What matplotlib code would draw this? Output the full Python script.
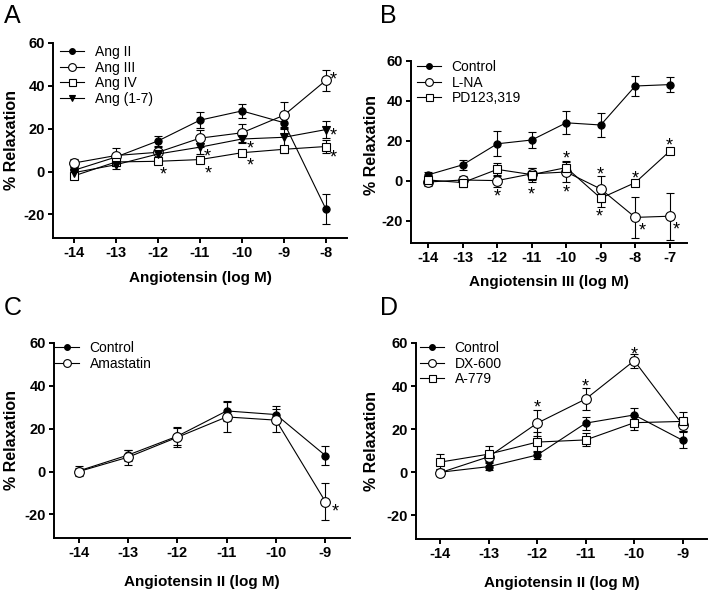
import matplotlib
matplotlib.use('Agg')
import matplotlib.pyplot as plt
import numpy as np

plt.rcParams['font.family'] = ['Liberation Sans', 'DejaVu Sans']
plt.rcParams['axes.unicode_minus'] = False

# Panel A
dose_a = [-14, -13, -12, -11, -10, -9, -8]
ang2 = [0.6, 6.8, 14.3, 24.0, 28.3, 22.8, -17.6]
ang2_err = [1.5, 1.5, 2.4, 3.8, 3.3, 3.0, 7.0]
ang3 = [4.0, 7.5, 9.0, 15.6, 18.1, 26.3, 42.6]
ang3_err = [1.8, 3.6, 2.5, 3.9, 4.3, 6.0, 5.0]
ang4 = [-2.0, 4.5, 4.8, 5.6, 8.8, 10.4, 11.7]
ang4_err = [1.0, 2.0, 1.2, 1.5, 1.5, 1.5, 3.0]
ang17 = [-0.5, 3.2, 8.2, 11.4, 15.2, 16.0, 19.6]
ang17_err = [2.0, 2.0, 2.0, 3.0, 2.0, 5.0, 4.0]
stars_a = [(-11.88, 1.0), (-10.83, 9.5), (-10.8, 1.5), (-9.8, 13.2), (-9.8, 5.3),
           (-7.83, 45.5), (-7.83, 19.4), (-7.83, 9.3)]

# Panel B
dose_b = [-14, -13, -12, -11, -10, -9, -8, -7]
ctl_b = [3.1, 8.1, 18.6, 20.5, 29.1, 28.0, 47.5, 48.2]
ctl_b_err = [1.5, 2.6, 6.3, 4.2, 5.7, 6.2, 5.0, 3.8]
lna = [-0.5, 0.5, 0.2, 3.6, 4.5, -4.0, -18.2, -17.6]
lna_err = [2.0, 2.0, 3.0, 3.0, 5.0, 6.3, 10.3, 11.7]
pd123 = [0.5, -0.8, 5.8, 3.2, 6.7, -8.6, -0.8, 14.9]
pd123_err = [2.0, 2.0, 3.2, 3.5, 3.3, 4.3, 1.0, 1.0]
stars_b = [(-12, -5.1), (-11, -3.8), (-10, 13.8), (-10, -3.0), (-9, 6.1), (-9.03, -15.0),
           (-8, 4.1), (-7.8, -21.9), (-7, 20.4), (-6.8, -21.4)]

# Panel C
dose_c = [-14, -13, -12, -11, -10, -9]
ctl_c = [0.3, 7.7, 16.5, 28.3, 26.6, 7.5]
ctl_c_err = [2.5, 2.6, 4.3, 4.5, 4.0, 4.4]
amastatin = [0.0, 6.7, 16.0, 25.5, 24.0, -14.0]
amastatin_err = [1.5, 3.6, 4.4, 7.0, 5.4, 8.8]
stars_c = [(-8.8, -16.3)]

# Panel D
dose_d = [-14, -13, -12, -11, -10, -9]
ctl_d = [0.0, 2.6, 8.0, 22.8, 26.6, 14.8]
ctl_d_err = [1.5, 1.5, 2.0, 3.0, 3.0, 3.7]
dx600 = [-0.2, 7.2, 22.8, 34.0, 51.8, 22.0]
dx600_err = [1.5, 2.0, 6.2, 5.3, 3.2, 3.0]
a779 = [4.7, 8.4, 14.0, 15.0, 23.0, 23.6]
a779_err = [3.7, 3.8, 4.5, 3.0, 3.6, 4.5]
stars_d = [(-12, 32.5), (-11, 42.5), (-10, 57.0)]

styles = {
    'filled': dict(marker='o', mfc='black', ms=5.2),
    'circle': dict(marker='o', mfc='white', ms=7),
    'square': dict(marker='s', mfc='white', ms=6.3),
    'tri': dict(marker='v', mfc='black', ms=5.8),
}

W, H = 714, 591
fig = plt.figure(figsize=(W / 100, H / 100), dpi=100)


def make_axes(left, right, top, bottom):
    return fig.add_axes([left / W, 1 - bottom / H, (right - left) / W, (bottom - top) / H])


def panel(ax, x, series, stars, xlabel, leg_dx, leg_dy, ylab_dx, ylab_y, xlab_dy):
    for y, err, style, label in series:
        ax.errorbar(x, y, yerr=err, fmt='none', ecolor='black', elinewidth=0.8,
                    capsize=2.7, capthick=0.8, zorder=2)
        ax.plot(x, y, color='black', lw=0.8, mec='black', mew=0.8, label=label,
                zorder=3, clip_on=False, **styles[style])
    # asterisk glyph sits high in the line, so drop it onto the point
    for sx, sy in stars:
        ax.annotate('*', (sx, sy), xytext=(0, -7.5), textcoords='offset points',
                    ha='center', va='baseline', fontsize=13)

    ax.set_xlim(x[0] - 0.5, x[-1] + 0.5)
    ax.set_ylim(-31, 60)
    ax.set_xticks(x)
    ax.set_xticklabels([str(v) for v in x])
    ax.set_yticks([-20, 0, 20, 40, 60])
    ax.set_yticklabels(['-20', '0', '20', '40', '60'])
    for s in ['top', 'right']:
        ax.spines[s].set_visible(False)
    for s in ['left', 'bottom']:
        ax.spines[s].set_linewidth(1.4)
    ax.tick_params(direction='out', length=3.8, width=1.4, pad=2, labelsize=10.5)
    for lab in ax.get_xticklabels() + ax.get_yticklabels():
        lab.set_fontweight('bold')

    bb = ax.get_position()
    wpx, hpx = bb.width * W, bb.height * H
    ax.set_ylabel('% Relaxation', fontsize=11.5, fontweight='bold', ha='center', va='center')
    ax.yaxis.set_label_coords(-ylab_dx / wpx, ylab_y)
    ax.set_xlabel(xlabel, fontsize=11, fontweight='bold', va='center')
    ax.xaxis.set_label_coords(0.5, -xlab_dy / hpx)

    ax.legend(loc='upper left', bbox_to_anchor=(leg_dx / wpx, 1 + leg_dy / hpx),
              frameon=False, fontsize=10, handlelength=1.7, handletextpad=0.8,
              labelspacing=0.12, borderpad=0, borderaxespad=0, markerscale=0.8)


ax_a = make_axes(53, 347, 43, 238)
panel(ax_a, dose_a,
      [(ang2, ang2_err, 'filled', 'Ang II'),
       (ang3, ang3_err, 'circle', 'Ang III'),
       (ang4, ang4_err, 'square', 'Ang IV'),
       (ang17, ang17_err, 'tri', 'Ang (1-7)')],
      stars_a, 'Angiotensin (log M)', 7, -2, 41, 0.5, 40)

ax_b = make_axes(411, 687, 61, 243)
panel(ax_b, dose_b,
      [(ctl_b, ctl_b_err, 'filled', 'Control'),
       (lna, lna_err, 'circle', 'L-NA'),
       (pd123, pd123_err, 'square', 'PD123,319')],
      stars_b, 'Angiotensin III (log M)', 6, 1, 39, 0.54, 39)

ax_c = make_axes(54, 350, 343, 538)
panel(ax_c, dose_c,
      [(ctl_c, ctl_c_err, 'filled', 'Control'),
       (amastatin, amastatin_err, 'circle', 'Amastatin')],
      stars_c, 'Angiotensin II (log M)', 1, 2, 42, 0.5, 44)

ax_d = make_axes(416, 707, 343, 539)
panel(ax_d, dose_d,
      [(ctl_d, ctl_d_err, 'filled', 'Control'),
       (dx600, dx600_err, 'circle', 'DX-600'),
       (a779, a779_err, 'square', 'A-779')],
      stars_d, 'Angiotensin II (log M)', 4, 2, 44, 0.5, 44)

for lab, px, py in [('A', 4, 23), ('B', 380, 23), ('C', 4, 315), ('D', 380, 315)]:
    fig.text(px / W, 1 - py / H, lab, fontsize=18, va='baseline', ha='left')

fig.savefig('out.png', dpi=100)
